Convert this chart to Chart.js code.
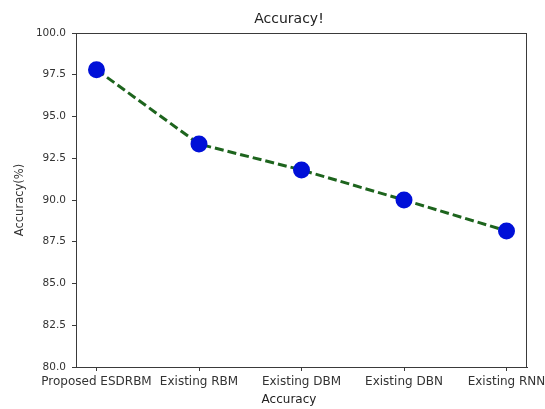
<!DOCTYPE html>
<html>
<head>
<meta charset="utf-8">
<script src="https://cdn.jsdelivr.net/npm/chart.js@4"></script>
<style>
  html, body { margin: 0; padding: 0; background: #fff; }
  #wrap { width: 545px; height: 409px; }
</style>
</head>
<body>
<div id="wrap"><canvas id="chart"></canvas></div>
<script>
// data
const categories = ["Proposed ESDRBM", "Existing RBM", "Existing DBM", "Existing DBN", "Existing RNN"];
const accuracy = [97.8, 93.35, 91.8, 90.0, 88.15];
const yTicks = [80, 82.5, 85, 87.5, 90, 92.5, 95, 97.5, 100];

const FONT = "'DejaVu Sans', sans-serif";

// frame on all four sides + the titles, placed like matplotlib does
const frame = {
    id: "frame",
    afterDraw(chart) {
        const a = chart.chartArea;
        const c = chart.ctx;
        c.save();
        c.strokeStyle = "#3a3a3a";
        c.lineWidth = 1;
        c.strokeRect(a.left + 0.5, a.top + 0.5, a.right - a.left - 1, a.bottom - a.top);
        c.fillStyle = "#222";
        c.textAlign = "center";
        c.textBaseline = "middle";
        c.font = "14px " + FONT;
        c.fillText("Accuracy!", 289, 19);
        c.font = "12px " + FONT;
        c.fillText("Accuracy", 289, 400);
        c.restore();
    }
};

let ctx = document.getElementById("chart").getContext("2d");
let chart = new Chart(ctx, {
    type: "line",
    data: {
        datasets: [{
            data: accuracy.map((v, i) => ({ x: i, y: v })),
            borderColor: "#1d641d",
            borderWidth: 3,
            borderDash: [9, 4],
            pointRadius: 7,
            pointHoverRadius: 7,
            pointBackgroundColor: "#0010d8",
            pointBorderColor: "#0010d8",
            tension: 0
        }]
    },
    plugins: [frame],
    options: {
        responsive: true,
        maintainAspectRatio: false,
        animation: false,
        layout: { padding: { left: 0, right: 18, top: 33, bottom: 0 } },
        plugins: {
            legend: { display: false },
            tooltip: { enabled: false },
            title: { display: false }
        },
        scales: {
            x: {
                type: "linear",
                min: -0.2,
                max: 4.2,
                afterBuildTicks: s => { s.ticks = categories.map((c, i) => ({ value: i })); },
                afterFit: s => { s.height = 42; s.paddingLeft = 0; s.paddingRight = 0; },
                grid: { display: true, drawOnChartArea: false, tickLength: 4, color: "#3a3a3a" },
                border: { display: true, color: "#3a3a3a" },
                ticks: {
                    padding: 4,
                    autoSkip: false,
                    maxRotation: 0,
                    color: "#333",
                    font: { family: FONT, size: 12 },
                    callback: v => categories[v]
                }
            },
            y: {
                min: 80,
                max: 100,
                afterBuildTicks: s => { s.ticks = yTicks.map(v => ({ value: v })); },
                afterFit: s => { s.width = 76; s.paddingTop = 0; s.paddingBottom = 0; },
                grid: { display: true, drawOnChartArea: false, tickLength: 4, color: "#3a3a3a" },
                border: { display: true, color: "#3a3a3a" },
                ticks: {
                    padding: 6,
                    color: "#333",
                    font: { family: FONT, size: 10.5 },
                    callback: v => v.toFixed(1)
                },
                title: {
                    display: true,
                    text: "Accuracy(%)",
                    color: "#333",
                    font: { family: FONT, size: 11.5 },
                    padding: { top: 13, bottom: 0 }
                }
            }
        }
    }
});
</script>
</body>
</html>
